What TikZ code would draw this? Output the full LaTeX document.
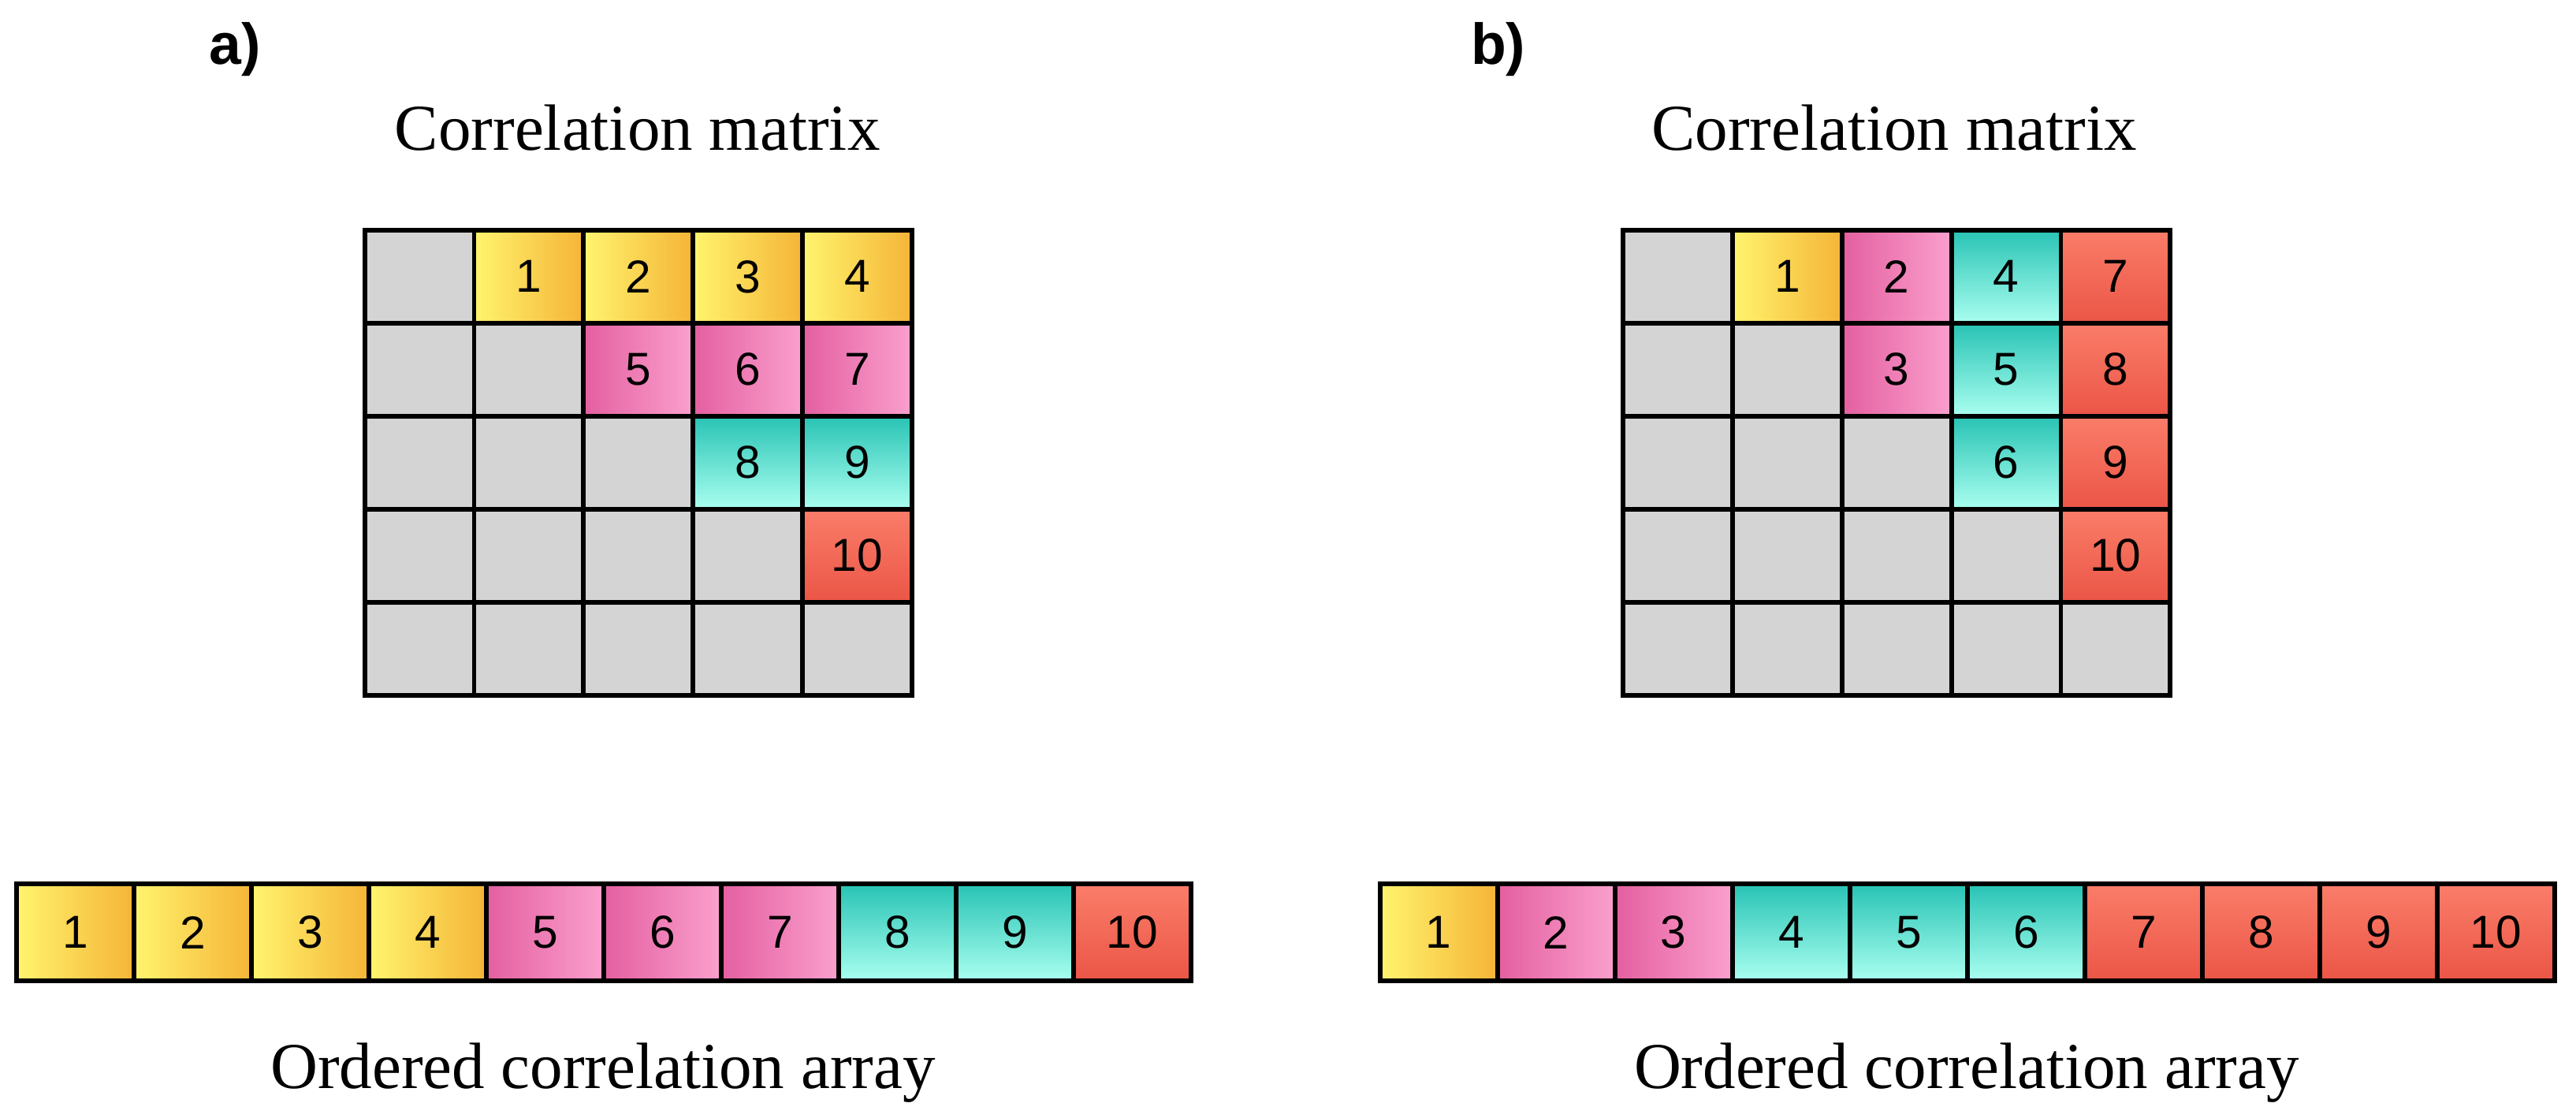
\documentclass[tikz,border=0pt]{standalone}
\usepackage{fontspec}
\setmainfont{Liberation Serif}
\newfontfamily\sansf{Liberation Sans}
\begin{document}
\begin{tikzpicture}[x=0.03cm,y=-0.03cm,
 cell/.style={draw=black,line width=2.4pt,minimum width=2cm,minimum height=1.7cm,inner sep=0pt,outer sep=0pt,font=\sansf\fontsize{24}{24}\selectfont,anchor=north west},
 acell/.style={cell,minimum width=2.145cm,minimum height=1.77cm},
 gr/.style={fill={rgb,255:red,212;green,212;blue,212}},
 ye/.style={left color={rgb,255:red,255;green,244;blue,110},right color={rgb,255:red,245;green,180;blue,55}},
 pk/.style={left color={rgb,255:red,228;green,95;blue,160},right color={rgb,255:red,250;green,160;blue,205}},
 tl/.style={top color={rgb,255:red,40;green,195;blue,180},bottom color={rgb,255:red,170;green,255;blue,240}},
 rd/.style={top color={rgb,255:red,250;green,125;blue,105},bottom color={rgb,255:red,235;green,85;blue,70}},
 ttl/.style={font=\fontsize{34}{34}\selectfont},
 lab/.style={font=\sansf\bfseries\fontsize{30}{30}\selectfont}]
\useasboundingbox (0,0) rectangle (1568,680);
% panel a matrix
\foreach \r in {0,...,4}{\foreach \c in {0,...,4}{
  \node[cell,gr] (a\r\c) at (222+\c*66.6,140+\r*56.6) {};}}
\node[cell,ye] (ma1) at (a01.north west) {1};
\node[cell,ye] (ma2) at (a02.north west) {2};
\node[cell,ye] (ma3) at (a03.north west) {3};
\node[cell,ye] (ma4) at (a04.north west) {4};
\node[cell,pk] (ma5) at (a12.north west) {5};
\node[cell,pk] (ma6) at (a13.north west) {6};
\node[cell,pk] (ma7) at (a14.north west) {7};
\node[cell,tl] (ma8) at (a23.north west) {8};
\node[cell,tl] (ma9) at (a24.north west) {9};
\node[cell,rd] (ma10) at (a34.north west) {10};
% panel b matrix
\foreach \r in {0,...,4}{\foreach \c in {0,...,4}{
  \node[cell,gr] (b\r\c) at (988+\c*66.6,140+\r*56.6) {};}}
\node[cell,ye] (mb1) at (b01.north west) {1};
\node[cell,pk] (mb2) at (b02.north west) {2};
\node[cell,pk] (mb3) at (b12.north west) {3};
\node[cell,tl] (mb4) at (b03.north west) {4};
\node[cell,tl] (mb5) at (b13.north west) {5};
\node[cell,tl] (mb6) at (b23.north west) {6};
\node[cell,rd] (mb7) at (b04.north west) {7};
\node[cell,rd] (mb8) at (b14.north west) {8};
\node[cell,rd] (mb9) at (b24.north west) {9};
\node[cell,rd] (mb10) at (b34.north west) {10};
% arrays
\foreach \i/\s in {1/ye,2/ye,3/ye,4/ye,5/pk,6/pk,7/pk,8/tl,9/tl,10/rd}{
  \node[acell,\s] (xa\i) at (10+\i*71.5-71.5,538) {\i};}
\foreach \i/\s in {1/ye,2/pk,3/pk,4/tl,5/tl,6/tl,7/rd,8/rd,9/rd,10/rd}{
  \node[acell,\s] (xb\i) at (840+\i*71.5-71.5,538) {\i};}
% titles
\node[ttl] (ta) at (388,78) {Correlation matrix};
\node[ttl] (tb) at (1153,78) {Correlation matrix};
\node[ttl] (oa) at (367,653) {Ordered correlation array};
\node[ttl] (ob) at (1197,653) {Ordered correlation array};
\node[lab] (la) at (143,30) {a)};
\node[lab] (lb) at (912,30) {b)};
\end{tikzpicture}
\end{document}
